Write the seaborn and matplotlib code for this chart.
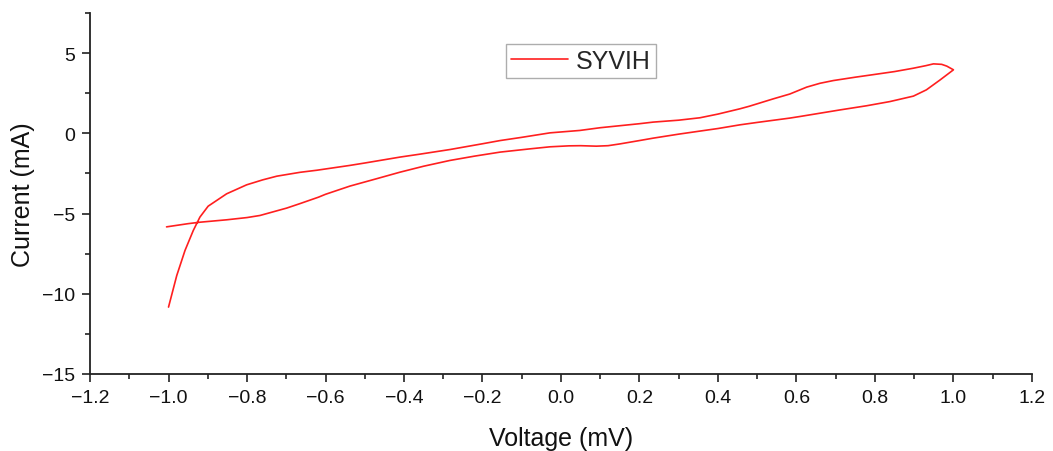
import numpy as np
import pandas as pd
import matplotlib
matplotlib.use("Agg")
import matplotlib.pyplot as plt
from matplotlib.ticker import MultipleLocator, FuncFormatter
import seaborn as sns

# Cyclic voltammogram: forward scan (upper branch) then reverse scan (lower branch)
forward_v = [-1.0, -0.979, -0.958, -0.937, -0.92, -0.899, -0.852, -0.801, -0.76, -0.724,
             -0.665, -0.622, -0.538, -0.5, -0.41, -0.36, -0.283, -0.2, -0.155,
             -0.1, -0.028, 0.048, 0.1, 0.2, 0.235, 0.3, 0.354, 0.4, 0.456, 0.48,
             0.541, 0.583, 0.626, 0.66, 0.694, 0.75, 0.796, 0.85, 0.898, 0.93, 0.949,
             0.97, 0.983, 1.0]
forward_i = [-10.83, -8.86, -7.3, -6.06, -5.22, -4.54, -3.77, -3.21, -2.9, -2.67,
             -2.43, -2.3, -2.0, -1.85, -1.48, -1.3, -1.01, -0.65, -0.45,
             -0.25, 0.03, 0.18, 0.35, 0.6, 0.7, 0.82, 0.97, 1.2, 1.53, 1.69,
             2.15, 2.45, 2.88, 3.12, 3.29, 3.5, 3.66, 3.85, 4.06, 4.22, 4.33,
             4.3, 4.19, 3.96]
reverse_v = [0.966, 0.931, 0.898, 0.838, 0.779, 0.711, 0.609, 0.583, 0.5, 0.456,
             0.4, 0.354, 0.3, 0.235, 0.2, 0.15, 0.12, 0.09, 0.05, 0.02,
             -0.028, -0.08, -0.155, -0.22, -0.283, -0.35, -0.41, -0.47, -0.538, -0.6,
             -0.618, -0.665, -0.699, -0.767, -0.8, -0.852, -0.92, -0.95, -1.005]
reverse_i = [3.33, 2.71, 2.32, 1.98, 1.72, 1.46, 1.05, 0.95, 0.68, 0.53,
             0.3, 0.14, -0.05, -0.3, -0.45, -0.66, -0.77, -0.8, -0.77, -0.78,
             -0.84, -0.97, -1.17, -1.42, -1.69, -2.05, -2.42, -2.83, -3.29, -3.8,
             -3.98, -4.38, -4.66, -5.12, -5.25, -5.39, -5.54, -5.63, -5.83]

series_name = "SYVIH"
x_label = "Voltage (mV)"
y_label = "Current (mA)"

df = pd.DataFrame({
    "Voltage": forward_v + reverse_v,
    "Current": forward_i + reverse_i,
    "Sample": series_name,
})

sns.set_theme(style="ticks")
plt.rcParams["font.family"] = ["Liberation Sans", "DejaVu Sans"]

fig = plt.figure(figsize=(10.53, 4.52), dpi=100)
ax = fig.add_axes([0.0855, 0.1704, 0.8945, 0.7986])

sns.lineplot(data=df, x="Voltage", y="Current", hue="Sample", sort=False,
             estimator=None, palette=["#ff1f1f"], linewidth=1.2, ax=ax)
ax.lines[0].set_solid_joinstyle("round")

ax.set_xlim(-1.2, 1.2)
ax.set_ylim(-15, 7.5)
ax.xaxis.set_major_locator(MultipleLocator(0.2))
ax.xaxis.set_minor_locator(MultipleLocator(0.1))
ax.yaxis.set_major_locator(MultipleLocator(5))
ax.yaxis.set_minor_locator(MultipleLocator(2.5))
ax.xaxis.set_major_formatter(FuncFormatter(
    lambda v, p: f"{v:.1f}".replace("-", "\u2212")))

for side in ("top", "right"):
    ax.spines[side].set_visible(False)
for side in ("left", "bottom"):
    ax.spines[side].set_color("#222222")
    ax.spines[side].set_linewidth(1.3)

ax.tick_params(which="major", direction="out", length=6, width=1.2,
               colors="#222222", labelsize=14, labelcolor="#111111", pad=5)
ax.tick_params(which="minor", direction="out", length=3.5, width=1.2,
               colors="#222222")

ax.set_xlabel(x_label, fontsize=18, color="#111111", labelpad=14)
ax.set_ylabel(y_label, fontsize=18, color="#111111", labelpad=4.5)

leg = ax.legend(loc="upper left", bbox_to_anchor=(0.4416, 0.914), fontsize=18,
                frameon=True, fancybox=False, edgecolor="#999999",
                handlelength=2.3, handletextpad=0.3, borderpad=0.2,
                borderaxespad=0)
leg.get_frame().set_linewidth(1.0)

fig.savefig("out.png", dpi=100, facecolor="white")
